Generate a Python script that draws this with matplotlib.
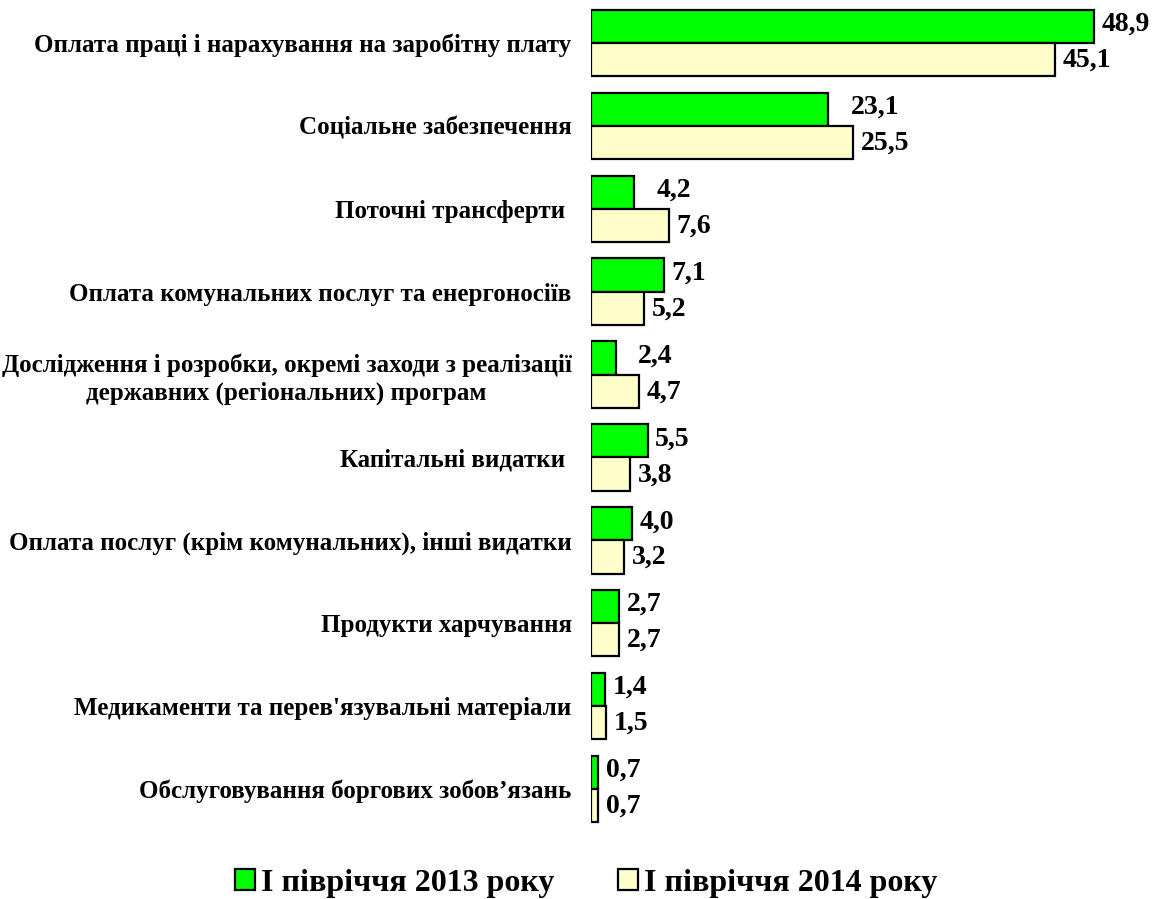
import numpy as np
import matplotlib.pyplot as plt
from matplotlib.patches import Patch

categories = [
    'Оплата праці і нарахування на заробітну плату',
    'Соціальне забезпечення',
    'Поточні трансферти ',
    'Оплата комунальних послуг та енергоносіїв',
    'Дослідження і розробки, окремі заходи з реалізації\nдержавних (регіональних) програм',
    'Капітальні видатки ',
    'Оплата послуг (крім комунальних), інші видатки',
    'Продукти харчування',
    "Медикаменти та перев'язувальні матеріали",
    'Обслуговування боргових зобов’язань',
]
v2013 = [48.9, 23.1, 4.2, 7.1, 2.4, 5.5, 4.0, 2.7, 1.4, 0.7]
v2014 = [45.1, 25.5, 7.6, 5.2, 4.7, 3.8, 3.2, 2.7, 1.5, 0.7]
series_names = ['І півріччя 2013 року', 'І півріччя 2014 року']

green = '#00ff00'
cream = '#ffffcc'

plt.rcParams['font.family'] = 'serif'
plt.rcParams['font.serif'] = ['Liberation Serif', 'DejaVu Serif']

fig = plt.figure(figsize=(11.58, 8.99), dpi=100)
ax = fig.add_axes([591/1158, 1-830.5/899, 1-591/1158-0.005, (830.5-1.5)/899])

y = np.arange(len(categories))
h = 0.4
ax.barh(y - h/2, v2013, height=h, color=green, edgecolor='black', linewidth=1.6)
ax.barh(y + h/2, v2014, height=h, color=cream, edgecolor='black', linewidth=1.6)

def fmt(v):
    return f'{v:.1f}'.replace('.', ',')

# підписи значень
for i in range(len(categories)):
    dx = 16 if v2014[i] - v2013[i] > 0.5 else 5.5
    ax.annotate(fmt(v2013[i]), (v2013[i], y[i] - h/2), xytext=(dx, 1.5),
                textcoords='offset points', ha='left', va='center',
                fontsize=20, fontweight='bold')
    ax.annotate(fmt(v2014[i]), (v2014[i], y[i] + h/2), xytext=(5.5, -0.5),
                textcoords='offset points', ha='left', va='center',
                fontsize=20, fontweight='bold')

ax.set_xlim(0, 54.6)
ax.set_ylim(len(categories) - 0.5, -0.5)
ax.set_yticks(y)
ax.set_yticklabels(categories, fontsize=18, fontweight='bold', ha='right',
                   multialignment='center', linespacing=1.25)
ax.tick_params(axis='y', length=0, pad=14)
ax.set_xticks([])
for s in ax.spines.values():
    s.set_visible(False)

handles = [Patch(facecolor=green, edgecolor='black', linewidth=1.6),
           Patch(facecolor=cream, edgecolor='black', linewidth=1.6)]
fig.legend(handles, series_names, loc='center', bbox_to_anchor=(0.5065, 1-883/899),
           ncol=2, frameon=False, prop={'size': 23, 'weight': 'bold'},
           handlelength=0.62, handleheight=0.62, handletextpad=0.19,
           columnspacing=2.0)

fig.savefig('out.png', dpi=100)
